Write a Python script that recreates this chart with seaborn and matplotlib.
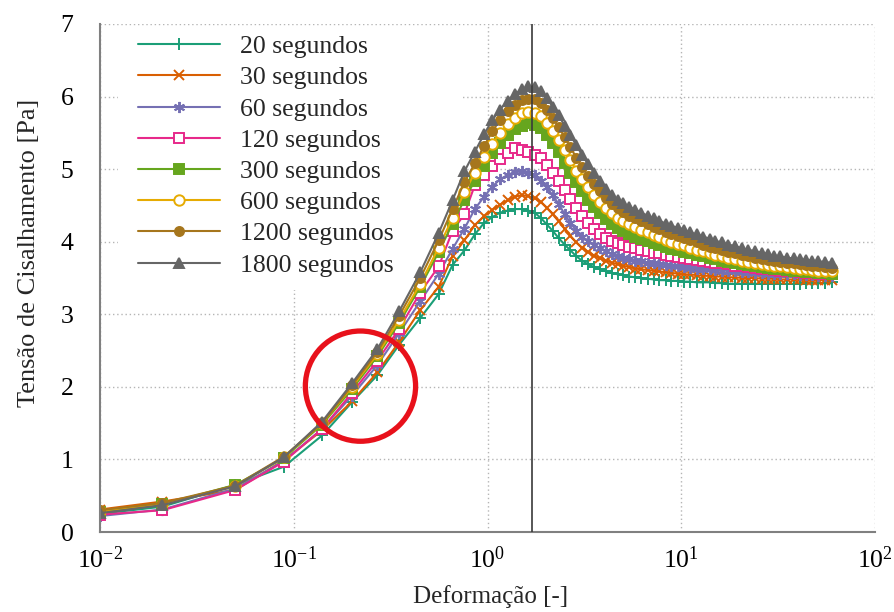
import pandas as pd
import seaborn as sns
import matplotlib.pyplot as plt
from matplotlib.patches import Rectangle

# deformation (strain) values shared by all curves
deformacao = [0.01, 0.021, 0.05, 0.089, 0.14, 0.2, 0.27, 0.35, 0.45, 0.56,
              0.66, 0.76, 0.86, 0.96, 1.06, 1.16, 1.27, 1.38, 1.5, 1.62,
              1.75, 1.88, 2.02, 2.17, 2.33, 2.5, 2.68, 2.87, 3.07, 3.3,
              3.55, 3.8, 4.1, 4.4, 4.7, 5.0, 5.4, 5.8, 6.2, 6.7,
              7.2, 7.7, 8.3, 8.9, 9.6, 10.3, 11.1, 12, 13, 14,
              15, 16.2, 17.5, 19, 20.5, 22, 24, 26, 28, 30,
              32.5, 35, 38, 41, 44, 47.5, 51, 55, 60]

# shear stress [Pa] for each rest time
s20 = [0.25, 0.35, 0.65, 0.90, 1.33, 1.79, 2.16, 2.58, 2.95, 3.28,
       3.68, 3.88, 4.10, 4.26, 4.34, 4.40, 4.43, 4.45, 4.45, 4.43,
       4.40, 4.33, 4.24, 4.15, 4.05, 3.96, 3.88, 3.80, 3.74, 3.69,
       3.65, 3.62, 3.59, 3.57, 3.55, 3.54, 3.52, 3.51, 3.50, 3.49,
       3.48, 3.47, 3.47, 3.46, 3.46, 3.45, 3.45, 3.44, 3.44, 3.44,
       3.43, 3.43, 3.42, 3.42, 3.42, 3.42, 3.42, 3.42, 3.42, 3.42,
       3.42, 3.42, 3.42, 3.42, 3.43, 3.43, 3.43, 3.43, 3.44]
s30 = [0.31, 0.42, 0.58, 0.99, 1.40, 1.80, 2.20, 2.62, 3.06, 3.38,
       3.80, 4.02, 4.23, 4.35, 4.44, 4.51, 4.57, 4.62, 4.64, 4.63,
       4.60, 4.55, 4.47, 4.38, 4.28, 4.18, 4.08, 3.99, 3.92, 3.86,
       3.81, 3.77, 3.74, 3.71, 3.69, 3.67, 3.65, 3.63, 3.62, 3.61,
       3.60, 3.59, 3.58, 3.57, 3.56, 3.55, 3.55, 3.54, 3.53, 3.53,
       3.52, 3.52, 3.51, 3.51, 3.50, 3.50, 3.50, 3.49, 3.49, 3.49,
       3.48, 3.48, 3.48, 3.48, 3.47, 3.47, 3.47, 3.47, 3.47]
s60 = [0.22, 0.31, 0.60, 0.98, 1.42, 1.88, 2.30, 2.74, 3.18, 3.56,
       3.90, 4.18, 4.45, 4.62, 4.76, 4.86, 4.92, 4.96, 4.97, 4.95,
       4.92, 4.84, 4.75, 4.64, 4.52, 4.38, 4.26, 4.15, 4.07, 4.01,
       3.96, 3.91, 3.87, 3.83, 3.80, 3.78, 3.76, 3.74, 3.73, 3.71,
       3.70, 3.69, 3.68, 3.67, 3.66, 3.65, 3.64, 3.63, 3.62, 3.62,
       3.61, 3.60, 3.60, 3.59, 3.58, 3.58, 3.57, 3.57, 3.56, 3.56,
       3.55, 3.55, 3.55, 3.54, 3.54, 3.54, 3.53, 3.53, 3.53]
s120 = [0.24, 0.30, 0.58, 0.97, 1.42, 1.92, 2.36, 2.80, 3.30, 3.66,
        4.15, 4.38, 4.78, 4.92, 5.05, 5.14, 5.22, 5.29, 5.27, 5.24,
        5.20, 5.15, 5.06, 4.95, 4.83, 4.71, 4.59, 4.47, 4.36, 4.26,
        4.17, 4.11, 4.05, 4.01, 3.98, 3.96, 3.93, 3.91, 3.89, 3.87,
        3.85, 3.84, 3.82, 3.81, 3.79, 3.78, 3.76, 3.75, 3.73, 3.72,
        3.71, 3.70, 3.69, 3.67, 3.66, 3.65, 3.64, 3.63, 3.62, 3.61,
        3.60, 3.59, 3.59, 3.58, 3.57, 3.57, 3.56, 3.56, 3.55]
s300 = [0.28, 0.38, 0.65, 1.02, 1.48, 1.97, 2.42, 2.88, 3.38, 3.86,
        4.25, 4.58, 4.84, 5.05, 5.22, 5.36, 5.47, 5.55, 5.60, 5.63,
        5.61, 5.56, 5.47, 5.36, 5.23, 5.09, 4.95, 4.82, 4.70, 4.58,
        4.48, 4.39, 4.31, 4.25, 4.19, 4.15, 4.11, 4.07, 4.04, 4.01,
        3.98, 3.95, 3.93, 3.90, 3.88, 3.86, 3.84, 3.82, 3.80, 3.78,
        3.76, 3.74, 3.72, 3.71, 3.69, 3.68, 3.66, 3.65, 3.64, 3.63,
        3.62, 3.61, 3.60, 3.59, 3.58, 3.58, 3.57, 3.57, 3.56]
s600 = [0.29, 0.39, 0.63, 1.03, 1.50, 2.00, 2.45, 2.92, 3.42, 3.92,
        4.33, 4.68, 4.95, 5.17, 5.35, 5.50, 5.62, 5.71, 5.77, 5.79,
        5.78, 5.73, 5.64, 5.53, 5.40, 5.26, 5.12, 4.98, 4.86, 4.75,
        4.64, 4.55, 4.46, 4.39, 4.33, 4.29, 4.24, 4.20, 4.16, 4.13,
        4.09, 4.06, 4.03, 4.00, 3.97, 3.95, 3.92, 3.89, 3.87, 3.84,
        3.82, 3.80, 3.78, 3.76, 3.74, 3.72, 3.71, 3.69, 3.68, 3.67,
        3.66, 3.65, 3.64, 3.63, 3.62, 3.61, 3.60, 3.60, 3.59]
s1200 = [0.30, 0.40, 0.64, 1.04, 1.50, 2.02, 2.48, 2.98, 3.50, 4.02,
         4.45, 4.82, 5.08, 5.32, 5.52, 5.68, 5.80, 5.89, 5.95, 5.97,
         5.96, 5.91, 5.82, 5.71, 5.58, 5.44, 5.30, 5.16, 5.03, 4.91,
         4.80, 4.70, 4.60, 4.52, 4.46, 4.41, 4.36, 4.32, 4.28, 4.24,
         4.20, 4.17, 4.14, 4.11, 4.08, 4.05, 4.02, 3.99, 3.96, 3.93,
         3.91, 3.88, 3.86, 3.84, 3.82, 3.80, 3.78, 3.76, 3.75, 3.73,
         3.72, 3.71, 3.70, 3.69, 3.68, 3.67, 3.66, 3.65, 3.64]
s1800 = [0.26, 0.37, 0.63, 1.03, 1.52, 2.05, 2.52, 3.04, 3.58, 4.12,
         4.57, 4.97, 5.24, 5.48, 5.68, 5.82, 5.94, 6.03, 6.10, 6.14,
         6.13, 6.08, 5.98, 5.86, 5.74, 5.60, 5.47, 5.33, 5.20, 5.07,
         4.95, 4.84, 4.73, 4.65, 4.58, 4.53, 4.48, 4.44, 4.40, 4.36,
         4.32, 4.29, 4.25, 4.22, 4.19, 4.16, 4.13, 4.10, 4.07, 4.04,
         4.01, 3.99, 3.96, 3.94, 3.91, 3.89, 3.87, 3.85, 3.83, 3.81,
         3.80, 3.78, 3.77, 3.76, 3.75, 3.74, 3.73, 3.72, 3.71]

series_names = ['20 segundos', '30 segundos', '60 segundos', '120 segundos',
                '300 segundos', '600 segundos', '1200 segundos', '1800 segundos']
series_values = [s20, s30, s60, s120, s300, s600, s1200, s1800]

# vertical reference line and highlight circle
linha_vertical = 1.69
circulo_x = 0.221
circulo_y = 2.01

cores = sns.color_palette('Dark2', 8)
marcadores = ['+', 'x', (6, 2, 0), 's', 's', 'o', 'o', '^']
preenchido = [True, True, True, False, True, False, True, True]
tamanhos = [8, 7, 8, 7.5, 6.5, 7.5, 6.5, 7.5]

rows = []
for name, vals in zip(series_names, series_values):
    for d, t in zip(deformacao, vals):
        rows.append({'serie': name, 'deformacao': d, 'tensao': t})
df = pd.DataFrame(rows)

sns.set_theme(style="white")
plt.rcParams['font.family'] = ['Liberation Serif', 'DejaVu Serif']
plt.rcParams['mathtext.fontset'] = 'custom'
plt.rcParams['mathtext.rm'] = 'Liberation Serif'

fig = plt.figure(figsize=(8.95, 6.12), dpi=100)
ax = fig.add_axes([0.1117, 0.1307, 0.866, 0.8301])
ax.set_xscale('log')

for i, name in enumerate(series_names):
    sub = df[df['serie'] == name]
    c = cores[i]
    sns.lineplot(data=sub, x='deformacao', y='tensao', ax=ax, color=c,
                 linewidth=1.5, marker=marcadores[i], markersize=tamanhos[i],
                 markeredgecolor=c, markeredgewidth=1.4,
                 markerfacecolor=c if preenchido[i] else 'white',
                 label=name, estimator=None, sort=False, zorder=2 + i * 0.01)

ax.axvline(linha_vertical, color='#3a3a3a', linewidth=1.2, zorder=3)
ax.scatter([circulo_x], [circulo_y], s=6300, facecolors='none',
           edgecolors='#e8111b', linewidths=3.8, zorder=4)

# white legend background (hides grid behind legend)
ax.add_patch(Rectangle((0.023, 0.476), 0.445, 0.52, transform=ax.transAxes,
                       facecolor='white', edgecolor='none', zorder=1))

ax.set_xlim(1e-2, 1e2)
ax.set_ylim(0, 7)
ax.set_yticks(range(8))
ax.set_axisbelow(True)
ax.grid(True, which='major', linestyle=(0, (1, 2)), color='#b5b5b5', linewidth=1.0)

for s in ['top', 'right']:
    ax.spines[s].set_visible(False)
for s in ['left', 'bottom']:
    ax.spines[s].set_color('#808080')
    ax.spines[s].set_linewidth(1.5)

ax.tick_params(axis='both', which='major', labelsize=18.5, direction='out',
               length=5, width=1.2, color='#808080', labelcolor='black')
ax.tick_params(axis='x', which='minor', direction='out', length=3, width=1.0,
               color='#808080')
ax.tick_params(axis='y', which='major', pad=14)
ax.tick_params(axis='x', which='major', pad=5)

ax.set_xlabel('Deformação [-]', fontsize=18)
ax.set_ylabel('Tensão de Cisalhamento [Pa]', fontsize=19)
ax.xaxis.set_label_coords(0.504, -0.105)
ax.yaxis.set_label_coords(-0.077, 0.55)

leg = ax.legend(loc='upper left', bbox_to_anchor=(0.049, 0.978), frameon=False,
                fontsize=18.5, handlelength=3.2, handletextpad=0.78,
                labelspacing=0.32, borderpad=0, borderaxespad=0)

fig.savefig('out.png', dpi=100)
